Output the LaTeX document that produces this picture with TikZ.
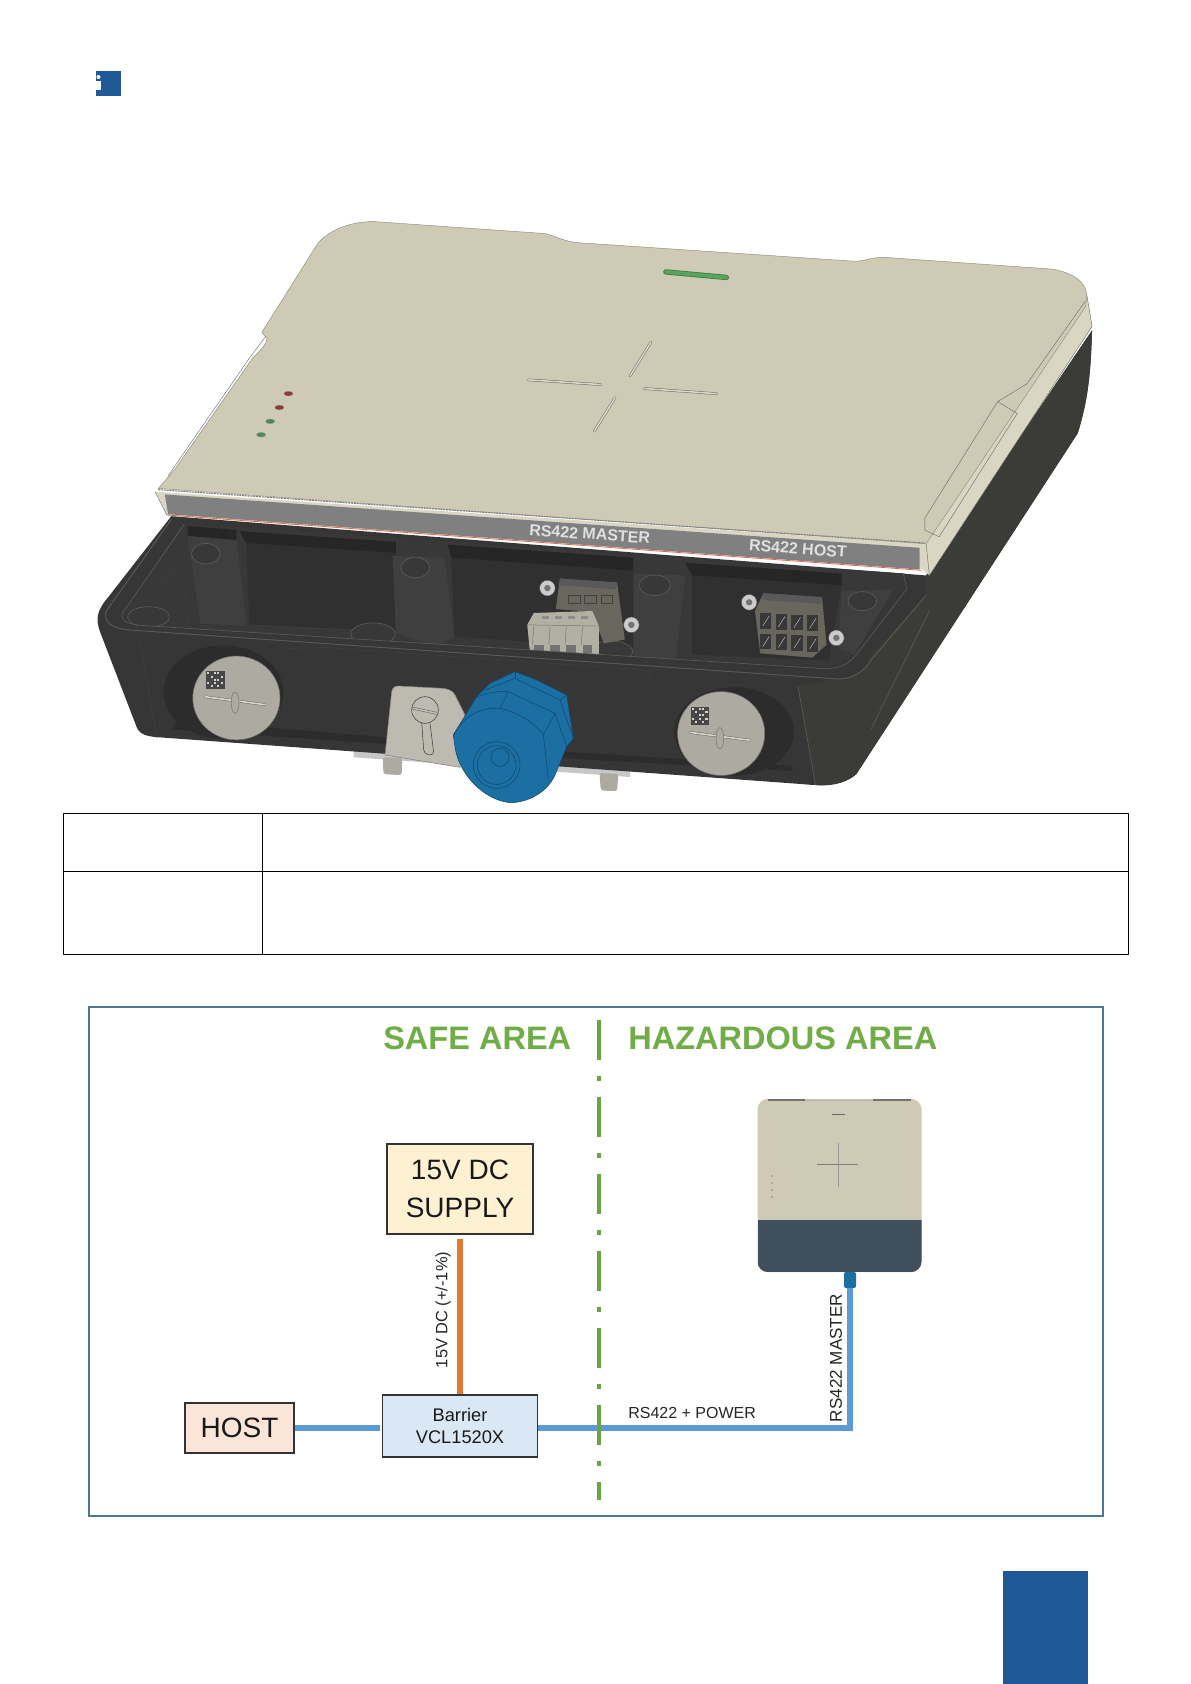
\documentclass[tikz,border=0pt]{standalone}
\usepackage{fontspec}
\setmainfont{Liberation Sans}
\definecolor{pageblue}{HTML}{1F5A96}
\definecolor{framecol}{HTML}{4F7695}
\definecolor{areagreen}{HTML}{70AD47}
\definecolor{cutgreen}{HTML}{69A545}
\definecolor{busblue}{HTML}{5B9BD5}
\definecolor{feedorange}{HTML}{DD7B34}
\definecolor{supplyfill}{HTML}{FEF1D2}
\definecolor{barrierfill}{HTML}{DAE8F5}
\definecolor{hostfill}{HTML}{FAE5D8}
\definecolor{lidcol}{HTML}{CFCAB5}
\definecolor{lipcol}{HTML}{DAD6C4}
\definecolor{bodycol}{HTML}{363636}
\definecolor{sidecol}{HTML}{3B3B37}
\definecolor{recesscol}{HTML}{2C2C2C}
\definecolor{wallcol}{HTML}{383838}
\definecolor{panelcol}{HTML}{303030}
\definecolor{bandcol}{HTML}{262626}
\definecolor{postcol}{HTML}{3F3F3F}
\definecolor{rimcol}{HTML}{5A5A55}
\definecolor{metalcol}{HTML}{ADAAA2}
\definecolor{bracketcol}{HTML}{BDBAB0}
\definecolor{plugcol}{HTML}{B2B0A3}
\definecolor{blockcol}{HTML}{69665E}
\definecolor{glandcol}{HTML}{1B6FA2}
\definecolor{glandline}{HTML}{0F4A70}
\definecolor{devdark}{HTML}{3F4F5C}
\definecolor{ledred}{HTML}{8F3B33}
\definecolor{ledgreen}{HTML}{4C8B4F}
\definecolor{barled}{HTML}{58A55C}
\tikzset{
  blockbox/.style={draw=black!80,line width=.8pt,align=center,inner sep=0pt,text=black!90},
  bigtext/.style={font=\fontsize{21}{28.5}\selectfont},
  smalltext/.style={font=\fontsize{13.7}{16.5}\selectfont},
  wirelabel/.style={inner sep=0pt,text=black!85,font=\fontsize{12.3}{14}\selectfont},
  areatext/.style={inner sep=0pt,text=areagreen,font=\fontsize{24.4}{28}\selectfont\bfseries},
  buswire/.style={busblue,line width=4pt,line join=miter},
  feedwire/.style={feedorange,line width=4pt},
  cutline/.style={cutgreen,line width=3pt,dash pattern=on 30pt off 12pt on 3.75pt off 12pt},
  tablerule/.style={black,line width=.55pt},
  rimline/.style={rimcol,line width=.5pt},
  edgeline/.style={black!75,line width=.4pt},
  slotline/.style={draw=black!60,double=lipcol,double distance=1.2pt,line width=.35pt,line cap=round},
  hole/.style={fill=wallcol,draw=rimcol,line width=.5pt},
  panellabel/.style={inner sep=0pt,rotate=-4,text=black!12,font=\fontsize{12}{14}\selectfont\bfseries},
  screwhead/.style={fill=black!20,draw=black!70,line width=.35pt},
  glandedge/.style={glandline,line width=.4pt}
}
\begin{document}
\begin{tikzpicture}[x=.75pt,y=-.75pt]
  \path[use as bounding box,fill=white] (0,0) rectangle (1191,1684);

  \fill[pageblue] (96,71) rectangle (121,96);
  \fill[white] (96,81) rectangle (100.5,90);
  \fill[white] (98.5,77) circle (2);
  \fill[pageblue] (1003,1571) rectangle (1088,1684);

  \begin{scope}[shift={(90,200)},x=.488pt,y=-.2964pt]
    \fill[black!22] (405,1393) -- (830,1443) -- (830,1460) -- (405,1410) -- cycle;
    \fill[metalcol,rounded corners=2pt] (450,1410) -- (480,1412) -- (479,1455) -- (451,1453) -- cycle;
    \fill[metalcol,rounded corners=2pt] (783,1450) -- (812,1452) -- (810,1496) -- (785,1494) -- cycle;

    \fill[bodycol] (125,800) -- (28,1005) .. controls (10,1040) and (8,1060) .. (16,1095) -- (72,1335)
      .. controls (78,1355) and (90,1358) .. (110,1360) -- (1095,1478)
      .. controls (1130,1484) and (1160,1480) .. (1178,1452) -- (1518,590)
      .. controls (1535,500) and (1538,430) .. (1540,330) -- (1285,950) -- cycle;
    \fill[sidecol] (1285,950) -- (1540,330) .. controls (1538,430) and (1535,500) .. (1518,590)
      -- (1178,1452) .. controls (1160,1480) and (1130,1484) .. (1115,1480)
      -- (1088,1230) .. controls (1150,1215) and (1170,1200) .. (1190,1170) -- (1285,1000) -- cycle;
    \draw[rimline] (1088,1230) -- (1115,1480);
    \draw[rimline] (1200,1340) -- (1290,1040);

    \fill[wallcol] (140,818) -- (1252,945) -- (1165,1165) -- (1130,1182) -- (70,1078) -- (48,1048) -- cycle;
    \fill[panelcol] (240,868) -- (470,893) -- (470,1090) -- (245,1075) -- cycle;
    \fill[panelcol] (555,905) -- (835,938) -- (835,1135) -- (560,1105) -- cycle;
    \fill[panelcol] (925,950) -- (1155,975) -- (1135,1165) -- (925,1150) -- cycle;
    \fill[bandcol] (150,825) -- (225,835) -- (225,860) -- (150,850) -- cycle;
    \fill[bandcol] (230,838) -- (470,865) -- (470,893) -- (240,868) -- cycle;
    \fill[bandcol] (550,872) -- (835,905) -- (835,938) -- (555,905) -- cycle;
    \fill[bandcol] (915,918) -- (1155,945) -- (1155,975) -- (925,950) -- cycle;
    \fill[postcol] (150,850) -- (225,862) -- (240,1078) -- (170,1072) -- cycle;
    \fill[postcol] (465,900) -- (545,905) -- (560,1105) -- (530,1130) -- (470,1095) -- cycle;
    \fill[postcol] (835,945) -- (915,950) -- (900,1165) -- (835,1160) -- cycle;
    \fill[postcol] (1155,990) -- (1235,985) -- (1175,1150) -- (1150,1135) -- cycle;
    \draw[edgeline] (172,925) -- (180,1072);
    \draw[edgeline] (190,925) -- (205,1075);
    \draw[edgeline] (205,925) -- (218,1075);
    \draw[edgeline] (225,862) -- (240,1078);
    \draw[edgeline] (525,925) -- (545,1120);
    \draw[edgeline] (880,990) -- (870,1160);
    \draw[edgeline] (100,1000) -- (125,935) -- (148,1000) -- (150,1070);
    \draw[edgeline] (245,1075) -- (470,1095);
    \draw[hole] (178,895) ellipse [x radius=22,y radius=26];
    \draw[hole] (500,930) ellipse [x radius=22,y radius=26];
    \draw[hole] (868,975) ellipse [x radius=24,y radius=26];
    \draw[hole] (1187,1015) ellipse [x radius=22,y radius=24];
    \draw[hole] (90,1055) ellipse [x radius=32,y radius=26];
    \draw[hole] (435,1098) ellipse [x radius=34,y radius=28];
    \draw[hole] (800,1142) ellipse [x radius=34,y radius=26];

    \fill[blockcol] (722,958) -- (810,968) -- (822,1112) -- (790,1122) -- (770,1042) -- (716,1035) -- cycle;
    \fill[black!65] (722,958) -- (810,968) -- (808,985) -- (722,975) -- cycle;
    \foreach \bx in {735,760,785}
      \draw[black!75,line width=.4pt] (\bx,1000) rectangle ++(18,20);
    \fill[plugcol] (682,1045) -- (772,1040) -- (782,1078) -- (782,1152) -- (676,1142) -- (672,1075) -- cycle;
    \draw[black!55,line width=.35pt] (672,1075) -- (782,1078);
    \foreach \bx in {0,1,2,3} {
      \fill[black!45] ({695+\bx*20},1052) rectangle ++(10,8);
      \draw[black!55,line width=.35pt] ({682+\bx*25},1078) -- ({680+\bx*25},1125);
      \fill[black!55] ({682+\bx*25},1125) rectangle ++(15,22);
    }
    \fill[blockcol] (1035,995) -- (1125,1005) -- (1132,1125) -- (1110,1158) -- (1030,1147) -- (1022,1040) -- cycle;
    \fill[black!65] (1035,995) -- (1125,1005) -- (1122,1022) -- (1035,1012) -- cycle;
    \foreach \bx in {0,1,2,3}
      \foreach \by in {0,1} {
        \fill[black!78] ({1030+\bx*24},{1045+\by*52+\bx*2}) rectangle ++(17,40);
        \draw[black!25,line width=.35pt] ({1034+\bx*24},{1078+\by*52+\bx*2}) -- ({1044+\bx*24},{1052+\by*52+\bx*2});
      }
    \foreach \sx/\sy in {703/982,1013/1018,832/1075,1147/1108} {
      \draw[screwhead] (\sx,\sy) ellipse [x radius=12,y radius=20];
      \fill[black!55] (\sx,\sy) ellipse [x radius=5,y radius=8];
    }

    \fill[bodycol] (60,1088) -- (1150,1212) .. controls (1175,1212) and (1190,1190) .. (1200,1165)
      -- (1175,1155) .. controls (1165,1180) and (1150,1192) .. (1130,1186) -- (75,1076) -- cycle;
    \draw[rimline,line width=.7pt] (125,808) -- (25,1040) .. controls (20,1065) and (30,1082) .. (60,1088) -- (1150,1212)
      .. controls (1175,1212) and (1190,1190) .. (1200,1165) -- (1285,1000);
    \draw[black!78,line width=1.2pt] (135,815) -- (38,1040) .. controls (33,1060) and (42,1078) .. (65,1082) -- (1140,1200)
      .. controls (1165,1200) and (1180,1180) .. (1190,1160) -- (1270,990);
    \draw[rimline] (145,820) -- (50,1045) .. controls (46,1062) and (55,1072) .. (75,1076) -- (1130,1186)
      .. controls (1155,1186) and (1168,1170) .. (1178,1150) -- (1255,985) -- (1250,945);
    \draw[edgeline] (305,1135) -- (360,1132) -- (860,1190) -- (860,1222);
    \draw[edgeline] (77,1113) -- (103,1361);

    \fill[recesscol] (205,1245) ellipse [x radius=92,y radius=118];
    \fill[recesscol] (990,1345) ellipse [x radius=92,y radius=112];
    \fill[recesscol] (135,1315) -- (470,1362) -- (470,1378) -- (125,1340) -- cycle;
    \fill[recesscol] (720,1395) -- (1080,1432) -- (1080,1445) -- (720,1412) -- cycle;
    \foreach \px/\py in {225/1260,970/1350} {
      \draw[metalcol!65!black,fill=metalcol,line width=.4pt] (\px,\py) ellipse [x radius=67,y radius=106];
      \fill[black!72] ({\px-47},{\py-67}) rectangle ({\px-18},{\py-22});
      \foreach \qi/\qj in {0/0,2/0,4/1,1/1,3/2,0/3,2/3,4/3,1/4,3/0,2/2,3/4}
        \fill[black!18] ({\px-45+\qi*5.2},{\py-65+\qj*8.2}) rectangle ++(3.4,5.4);
      \draw[slotline] ({\px-48},{\py-3}) -- ({\px+44},{\py+17});
      \draw[metalcol!65!black,fill=metalcol,line width=.35pt] ({\px-2},{\py+12}) ellipse [x radius=6,y radius=27];
    }
  \end{scope}

  \begin{scope}[shift={(370,650)},x=.25pt,y=-.25pt]
    \draw[black!50,fill=bracketcol,line width=.4pt] (45,315) -- (65,125) .. controls (68,112) and (75,108) .. (85,108) -- (220,115)
      .. controls (240,118) and (250,125) .. (255,135) -- (285,195) -- (270,352) -- cycle;
    \draw[edgeline] (165,180) circle (40);
    \draw[slotline,double=bracketcol] (130,175) -- (200,190);
    \draw[edgeline,rounded corners=3pt] (155,216) -- (162,312) -- (192,316) -- (180,220);

    \draw[glandedge,fill=glandcol] (435,65) -- (500,90) -- (590,135) -- (610,265) -- (590,290) -- (555,375)
      .. controls (530,430) and (470,458) .. (420,458) .. controls (340,450) and (265,370) .. (255,290)
      -- (250,255) -- (320,140) -- (360,100) -- cycle;
    \draw[glandedge] (345,120) -- (435,85) -- (570,150) -- (590,135);
    \draw[glandedge] (435,65) -- (435,85);
    \draw[glandedge] (570,150) -- (610,265);
    \draw[glandedge] (320,140) .. controls (340,135) and (380,120) .. (415,125) -- (555,190) -- (590,290);
    \draw[glandedge] (390,175) -- (415,125);
    \draw[glandedge] (520,255) -- (555,190);
    \draw[glandedge] (250,255) .. controls (280,200) and (330,170) .. (390,175) .. controls (440,185) and (490,215) .. (520,255) -- (535,385);
    \draw[glandedge] (380,345) circle (70);
    \draw[glandedge] (380,345) circle (58);
    \draw[glandedge] (390,322) circle (27);
  \end{scope}

  \begin{scope}[shift={(90,200)},x=.488pt,y=-.2964pt]
    \fill[lipcol] (1532,240) -- (1540,320) -- (1290,950) -- (1280,935) -- (118,797) -- (100,738) -- (1285,870) -- (1530,270) -- cycle;
    \draw[black!60,line width=.3pt] (1532,240) -- (1540,320) -- (1290,950) -- (1285,870);
    \draw[black!60,line width=.3pt] (100,738) -- (118,797);
    \fill[black!50] (115,745) -- (1275,880) -- (1275,935) -- (120,795) -- cycle;
    \draw[red!45!brown!80,line width=.6pt] (118,797) -- (1278,937);
    \draw[lidcol!70!black,line width=.35pt,fill=lidcol] (105,730) -- (130,682) -- (250,400) .. controls (262,380) and (272,365) .. (272,350)
      -- (264,335) -- (350,110) .. controls (370,70) and (410,52) .. (440,55) -- (700,85)
      .. controls (720,95) and (730,105) .. (750,108) -- (1175,155) .. controls (1190,155) and (1200,145) .. (1220,145)
      -- (1480,175) .. controls (1510,185) and (1530,205) .. (1532,240) -- (1530,270) -- (1285,870) -- cycle;
    \draw[black!50,line width=.8pt,dash pattern=on 1.5pt off .6pt] (105,733) -- (1283,868);
    \draw[black!60,line width=.3pt] (1530,255) -- (1440,465) -- (1395,510) -- (1283,805) -- (1283,835) -- (1305,852) -- (1425,540) -- (1395,510);
    \draw[black!60,line width=.3pt] (120,698) -- (245,400) -- (270,345);

    \foreach \lx/\ly/\lc in {305/490/ledred,291/525/ledred,277/560/ledgreen,263/594/ledgreen}
      \fill[\lc,draw=black!45,line width=.2pt] (\lx,\ly) ellipse [x radius=7,y radius=6];
    \draw[barled!75!black,line width=4pt,line cap=round] (885,182) -- (978,196);
    \draw[barled,line width=2.8pt,line cap=round] (885,182) -- (978,196);
    \draw[slotline] (862,360) -- (830,445);
    \draw[slotline] (673,455) -- (785,467);
    \draw[slotline] (852,477) -- (963,490);
    \draw[slotline] (807,500) -- (775,585);
    \node[panellabel] (masterlabel) at (768,845) {RS422 MASTER};
    \node[panellabel] (hostlabel) at (1088,882) {RS422 HOST};
  \end{scope}

  \draw[tablerule] (63,813) rectangle (1128,954);
  \draw[tablerule] (63,871) -- (1128,871);
  \draw[tablerule] (262,813) -- (262,954);

  \draw[framecol,line width=1.8pt] (89,1007) rectangle (1103,1516);
  \node[areatext,anchor=west] (safe) at (383,1038) {SAFE AREA};
  \node[areatext,anchor=west] (hazard) at (628,1038) {HAZARDOUS AREA};

  \node[blockbox,bigtext,fill=supplyfill,minimum width=109.5pt,minimum height=67.5pt] (supply) at (460,1189) {15V DC\\SUPPLY};
  \node[blockbox,smalltext,fill=barrierfill,minimum width=116.25pt,minimum height=46.5pt] (barrier) at (460,1426) {Barrier\\VCL1520X};
  \node[blockbox,bigtext,fill=hostfill,minimum width=81.75pt,minimum height=37.5pt] (host) at (239.5,1428) {HOST};

  \node[rounded corners=8pt,fill=lidcol,minimum width=123pt,minimum height=130pt,inner sep=0pt,
    path picture={\fill[devdark,sharp corners] (path picture bounding box.south west) rectangle ([yshift=39pt]path picture bounding box.south east);}] (minidev) at (839.5,1185.5) {};
  \draw[black!55,line width=.8pt] (768,1100) -- (805,1100);
  \draw[black!30,line width=.6pt] (805,1100) -- (873,1100);
  \draw[black!55,line width=.8pt] (873,1100) -- (911,1100);
  \draw[black!60,line width=.6pt] (832,1114) -- (845,1114);
  \draw[black!50,line width=.6pt] (817,1164) -- (858,1164);
  \draw[black!40,line width=.35pt] (838,1143) -- (838,1187);
  \foreach \dy in {1176,1183,1190,1197}
    \fill[ledred!70] (772,\dy) circle (.8);
  \node[fill=glandcol,rounded corners=1.5pt,minimum width=9pt,minimum height=12pt,inner sep=0pt] (minigland) at (850,1280) {};
  \coordinate (busbend) at (850,1428);

  \draw[feedwire,shorten <=3pt] (supply.south) -- (barrier.north);
  \draw[buswire,shorten >=1.5pt] (host.east) -- (host.east -| barrier.west);
  \draw[buswire] (barrier.east |- busbend) -- (busbend) -- (minigland.south);

  \coordinate (cuttop) at (599,1020);
  \coordinate (cutend) at (599,1500);
  \draw[cutline] (cuttop) -- (cutend);

  \node[wirelabel,rotate=90] (feedlabel) at (443,1310) {15V DC (+/-1\%)};
  \node[wirelabel,anchor=west,font=\fontsize{12}{14}\selectfont] (buslabel) at (628,1413) {RS422 + POWER};
  \node[wirelabel,rotate=90,font=\fontsize{12.8}{14}\selectfont] (masterwire) at (836,1358) {RS422 MASTER};
\end{tikzpicture}
\end{document}
